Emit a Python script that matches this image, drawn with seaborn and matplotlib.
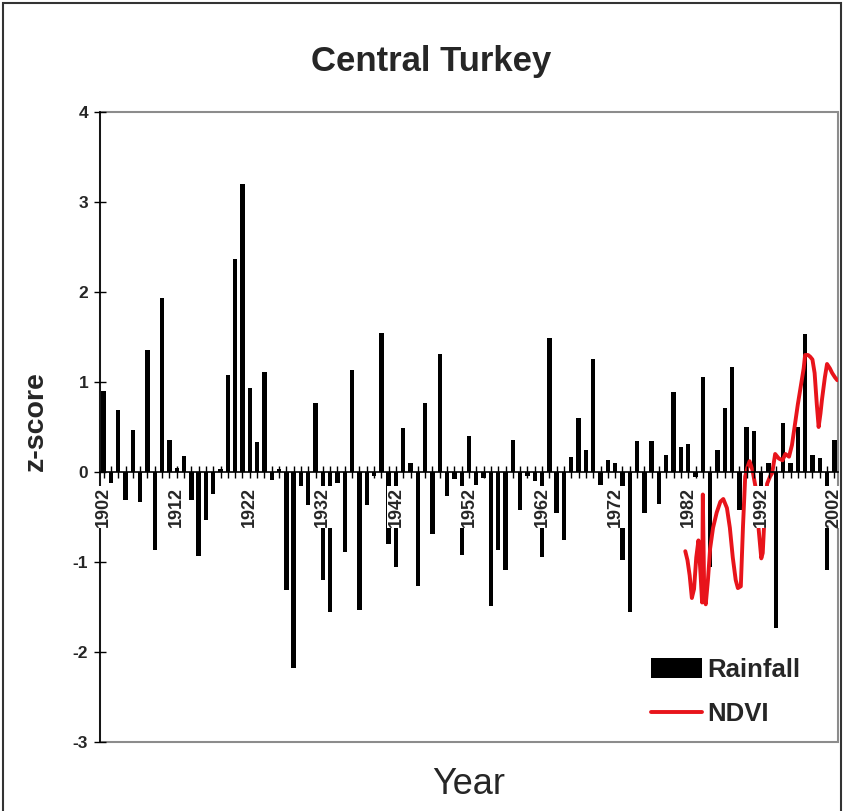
import numpy as np
import pandas as pd
import matplotlib
matplotlib.use("Agg")
import matplotlib.pyplot as plt
from matplotlib.patches import Rectangle, Patch
from matplotlib.lines import Line2D
import seaborn as sns

# ---------------- data ----------------
years = list(range(1902, 2003))
rainfall = [
    0.90, -0.12, 0.69, -0.31, 0.47, -0.33, 1.36, -0.87, 1.93, 0.36,   # 1902-1911
    0.04, 0.18, -0.31, -0.93, -0.53, -0.24, 0.03, 1.08, 2.37, 3.20,   # 1912-1921
    0.93, 0.33, 1.11, -0.09, 0.03, -1.31, -2.18, -0.15, -0.37, 0.77,  # 1922-1931
    -1.20, -1.55, -0.12, -0.89, 1.13, -1.53, -0.37, -0.04, 1.55, -0.80,  # 1932-1941
    -1.05, 0.49, 0.10, -1.27, 0.77, -0.69, 1.31, -0.27, -0.08, -0.92,  # 1942-1951
    0.40, -0.14, -0.07, -1.49, -0.87, -1.09, 0.36, -0.42, -0.04, -0.10,  # 1952-1961
    -0.94, 1.49, -0.45, -0.76, 0.17, 0.60, 0.24, 1.26, -0.14, 0.13,   # 1962-1971
    0.10, -0.98, -1.56, 0.35, -0.46, 0.35, -0.35, 0.19, 0.89, 0.28,   # 1972-1981
    0.31, -0.05, 1.06, -1.05, 0.24, 0.71, 1.17, -0.42, 0.50, 0.46,    # 1982-1991
    -0.15, 0.10, -1.73, 0.55, 0.10, 0.50, 1.53, 0.19, 0.16, -1.09,    # 1992-2001
    0.36,                                                             # 2002
]

ndvi_time = [1981.6, 1981.9, 1982.2, 1982.5, 1982.8, 1983.1, 1983.4, 1983.7,
             1983.9, 1984.0, 1984.2, 1984.4, 1984.7, 1985.0, 1985.4, 1985.9,
             1986.4, 1986.8, 1987.3, 1987.7, 1988.1, 1988.5, 1988.8, 1989.2,
             1989.5, 1989.8, 1990.1, 1990.4, 1990.8, 1991.2, 1991.6, 1992.0,
             1992.2, 1992.5, 1992.8, 1993.2, 1993.5, 1993.9, 1994.4, 1994.9,
             1995.3, 1995.8, 1996.2, 1996.7, 1997.0, 1997.4, 1997.8, 1998.0,
             1998.4, 1998.7, 1999.0, 1999.3, 1999.6, 1999.85, 2000.1, 2000.3,
             2000.7, 2001.0, 2001.4, 2001.7, 2002.1, 2002.4]
ndvi_value = [-0.88, -0.98, -1.15, -1.40, -1.30, -0.95, -0.76, -1.15,
              -1.45, -0.25, -1.40, -1.47, -1.20, -0.85, -0.62, -0.45,
              -0.33, -0.30, -0.40, -0.62, -0.95, -1.20, -1.29, -1.27,
              -0.60, -0.05, 0.05, 0.12, 0.02, -0.16, -0.60, -0.96,
              -0.90, -0.40, -0.13, -0.05, -0.01, 0.20, 0.15, 0.13,
              0.20, 0.17, 0.30, 0.58, 0.75, 0.95, 1.15, 1.30,
              1.30, 1.28, 1.25, 1.10, 0.75, 0.50, 0.65, 0.80,
              1.05, 1.20, 1.15, 1.10, 1.05, 1.02]

xtick_years = list(range(1902, 2003, 10))
yticks = [-3, -2, -1, 0, 1, 2, 3, 4]

# ---------------- style ----------------
sns.set_style("white")
plt.rcParams['font.family'] = ['Liberation Sans', 'DejaVu Sans']

W, H = 844, 811
fig = plt.figure(figsize=(W / 100, H / 100), dpi=100)
ax = fig.add_axes([100 / W, 1 - 742 / H, 738 / W, 630 / H])

rain_df = pd.DataFrame({"year": years, "rainfall": rainfall})
ndvi_df = pd.DataFrame({"time": ndvi_time, "ndvi": ndvi_value})

sns.barplot(data=rain_df, x="year", y="rainfall", native_scale=True,
            color="black", saturation=1, width=0.6, linewidth=0, ax=ax)
sns.lineplot(data=ndvi_df, x="time", y="ndvi", color="#e8141b",
             linewidth=2.8, ax=ax)

ax.set_xlim(1901.5, 2002.5)
ax.set_ylim(-3, 4)
ax.set_axisbelow(False)

# spines / frame
for s in ["top", "right"]:
    ax.spines[s].set_visible(False)
ax.spines["bottom"].set_position(("data", 0))
ax.spines["bottom"].set_color("black")
ax.spines["bottom"].set_linewidth(1.2)
ax.spines["left"].set_visible(True)
ax.spines["left"].set_color("black")
ax.spines["left"].set_linewidth(1.2)
ax.add_patch(Rectangle((0, 0), 1, 1, transform=ax.transAxes, fill=False,
                       edgecolor="#8c8c8c", linewidth=1.5, clip_on=False,
                       zorder=0.5))

# x ticks
ax.set_xticks(xtick_years)
ax.set_xticks(years, minor=True)
ax.set_xticklabels([str(y) for y in xtick_years], rotation=90,
                   fontsize=13, fontweight="bold")
for lab in ax.get_xticklabels():
    lab.set_bbox(dict(facecolor="white", edgecolor="none", pad=0.6))
ax.tick_params(axis="x", which="both", direction="inout", length=8,
               width=1, color="black", pad=7, bottom=True)

# y ticks
ax.set_yticks(yticks)
ax.set_yticklabels([str(v) for v in yticks], fontsize=12.5, fontweight="bold")
ax.tick_params(axis="y", which="major", direction="inout", length=9,
               width=1, color="black", pad=4, left=True)

ax.set_xlabel("")
ax.set_ylabel("")

fig.text(431 / W, 1 - 62 / H, "Central Turkey", ha="center", va="center",
         fontsize=25, fontweight="bold")
fig.text(36 / W, 1 - 421 / H, "z-score", ha="center", va="center",
         rotation=90, fontsize=20.5, fontweight="bold")
fig.text(469 / W, 1 - 784 / H, "Year", ha="center", va="center",
         fontsize=26)

handles = [Patch(facecolor="black", edgecolor="none"),
           Line2D([0], [0], color="#e8141b", linewidth=2.8)]
leg = ax.legend(handles, ["Rainfall", "NDVI"], loc="upper left",
                bbox_to_anchor=((651 - 100) / 738, (742 - 658) / 630),
                frameon=False, prop={"weight": "bold", "size": 18.5},
                handlelength=2.0, handleheight=0.8, handletextpad=0.2,
                labelspacing=0.78, borderaxespad=0, borderpad=0)

fig.patches.append(Rectangle((3 / W, -0.01), 838 / W, 1 - 3 / H + 0.01,
                             transform=fig.transFigure, fill=False,
                             edgecolor="#333333", linewidth=1.5))

fig.savefig("out.png", dpi=100)
